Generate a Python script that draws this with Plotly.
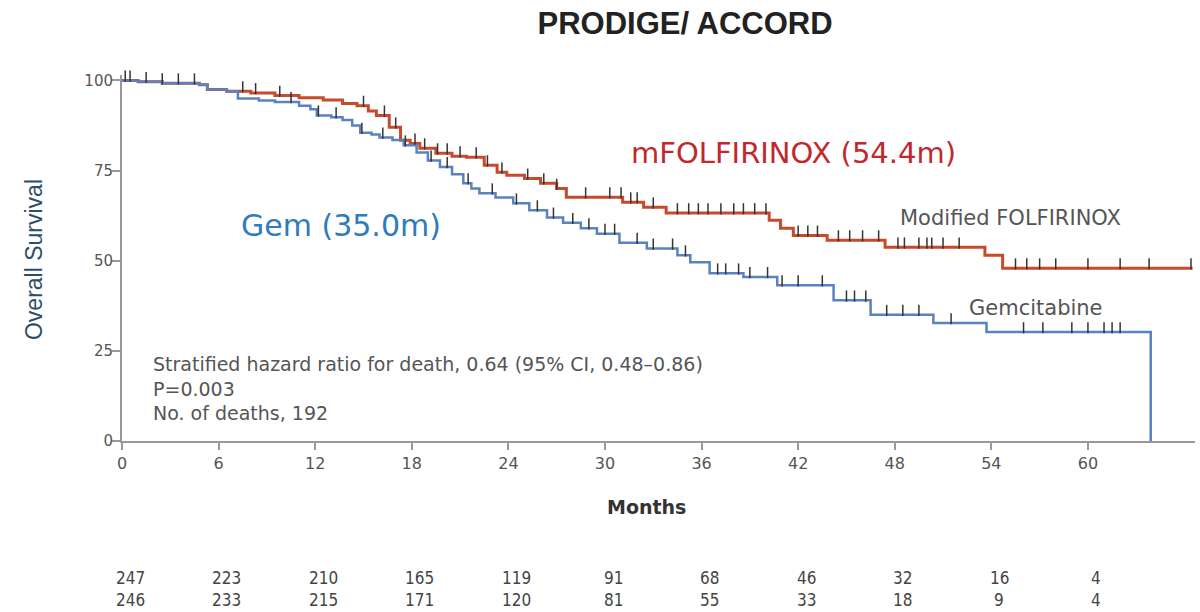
import numpy as np
import plotly.graph_objects as go

# ---------------- data ----------------
folf_t = [0, 1.0, 2.5, 4.8, 5.3, 6.5, 8.0, 9.5, 11.0, 12.5, 13.7, 14.6, 15.3, 15.8, 16.6, 17.3, 17.9,
          18.5, 19.5, 20.5, 21.4, 22.5, 23.3, 23.9, 25.0, 26.0, 27.0, 27.6, 31.1, 32.4, 33.8,
          40.2, 40.9, 41.7, 43.8, 47.4, 53.6, 54.7, 66.5]
folf_s = [100, 99.6, 99.2, 98.8, 97.5, 97.0, 96.5, 95.8, 95.2, 94.6, 93.6, 93.0, 91.5, 90.3, 87.0, 83.4, 82.5,
          81.2, 79.8, 79.0, 78.7, 76.5, 74.5, 73.7, 72.8, 71.5, 70.0, 67.6, 66.2, 64.8, 63.2,
          61.2, 59.0, 57.0, 55.7, 53.7, 51.5, 47.9, 47.9]

gem_t = [0, 1.0, 2.5, 4.8, 5.3, 6.5, 7.2, 8.5, 9.5, 11.0, 11.7, 12.1, 13.0, 13.7, 14.3, 14.8, 15.5,
         16.0, 16.8, 17.5, 18.3, 19.0, 19.75, 20.5, 21.2, 21.7, 22.2, 23.2, 24.3, 25.3, 26.4, 27.4,
         28.5, 29.5, 30.9, 32.6, 34.5, 35.3, 36.5, 38.6, 40.7, 44.2, 46.5, 50.4, 53.7, 63.9, 63.9]
gem_s = [100, 99.6, 99.2, 98.8, 97.5, 97.0, 95.0, 94.4, 94.0, 93.0, 92.0, 90.3, 89.8, 89.0, 87.5, 85.5, 85.0,
         84.2, 83.5, 82.0, 80.0, 77.8, 76.0, 74.0, 71.5, 70.0, 68.7, 67.5, 65.9, 64.0, 62.0, 60.5,
         59.0, 57.5, 55.0, 53.4, 51.5, 49.6, 46.5, 45.5, 43.2, 39.0, 35.0, 32.7, 30.2, 30.2, 0]

folf_censor = [0.2, 0.5, 1.5, 2.5, 3.5, 4.5, 7.5, 8.3, 9.8, 15.0, 16.3, 17.0, 18.2, 18.8, 19.6, 20.2, 21.0,
               22.0, 22.7, 23.6, 25.2, 26.2, 27.0, 28.8, 30.3, 31.0, 31.6, 32.0, 33.0, 34.5, 35.2,
               35.8, 36.4, 37.2, 38.0, 38.6, 39.3, 40.0, 42.0, 42.6, 43.2, 44.5, 45.2, 46.0, 47.0,
               48.2, 48.6, 49.5, 50.0, 50.3, 51.0, 52.0, 55.5, 56.2, 57.0, 58.0, 60.0, 62.0, 63.8, 66.4]
gem_censor = [10.5, 12.2, 13.3, 14.9, 16.2, 17.6, 19.2, 20.2, 21.5, 23.0, 24.5, 25.8, 26.8, 28.0, 29.0,
              30.0, 30.6, 32.0, 33.0, 34.2, 35.0, 37.0, 37.5, 38.3, 39.0, 40.1, 41.0, 42.0, 43.5,
              45.0, 45.5, 46.2, 47.5, 48.5, 49.5, 51.5, 56.0, 57.2, 59.0, 60.0, 61.0, 61.5, 62.0]

tick_months = [0, 6, 12, 18, 24, 30, 36, 42, 48, 54, 60]
risk_folf = [247, 223, 210, 165, 119, 91, 68, 46, 32, 16, 4]
risk_gem = [246, 233, 215, 171, 120, 81, 55, 33, 18, 9, 4]

RED = "#c64a2c"
BLUE = "#5a82c0"


def step_value(ts, ss, x):
    idx = np.searchsorted(np.array(ts), np.array(x), side="right") - 1
    return np.array(ss)[idx]


fig = go.Figure()
fig.add_trace(go.Scatter(x=folf_t, y=folf_s, mode="lines", line=dict(color=RED, width=3, shape="hv"),
                         showlegend=False, hoverinfo="skip"))
fig.add_trace(go.Scatter(x=gem_t, y=gem_s, mode="lines", line=dict(color=BLUE, width=2.5, shape="hv"),
                         showlegend=False, hoverinfo="skip"))
fig.add_trace(go.Scatter(x=folf_censor, y=step_value(folf_t, folf_s, folf_censor) + 1.2, mode="markers",
                         marker=dict(symbol="line-ns", size=8, line=dict(color="#333", width=1.5)),
                         showlegend=False, hoverinfo="skip", cliponaxis=False))
fig.add_trace(go.Scatter(x=gem_censor, y=step_value(gem_t, gem_s, gem_censor) + 1.2, mode="markers",
                         marker=dict(symbol="line-ns", size=8, line=dict(color="#333", width=1.5)),
                         showlegend=False, hoverinfo="skip", cliponaxis=False))

annotations = [
    dict(text="mFOLFIRINOX (54.4m)", x=41.7, y=80.0, xref="x", yref="y", showarrow=False,
         font=dict(family="DejaVu Sans", size=29, color="#c0282d")),
    dict(text="Gem (35.0m)", x=13.6, y=59.8, xref="x", yref="y", showarrow=False,
         font=dict(family="DejaVu Sans", size=30, color="#2f7bbd")),
    dict(text="Modified FOLFIRINOX", x=55.2, y=61.8, xref="x", yref="y", showarrow=False,
         font=dict(family="DejaVu Sans", size=21, color="#555")),
    dict(text="Gemcitabine", x=56.8, y=36.9, xref="x", yref="y", showarrow=False,
         font=dict(family="DejaVu Sans", size=21, color="#555")),
    dict(text="Stratified hazard ratio for death, 0.64 (95% CI, 0.48\u20130.86)<br>P=0.003<br>No. of deaths, 192",
         x=1.8, y=25.0, xref="x", yref="y", showarrow=False, xanchor="left", yanchor="top", align="left",
         font=dict(family="DejaVu Sans", size=19, color="#555")),
    dict(text="<b>Months</b>", x=32.6, y=-0.18, xref="x", yref="paper", showarrow=False, yanchor="middle",
         font=dict(family="DejaVu Sans", size=19, color="#333")),
    dict(text="Overall Survival", x=-0.082, y=0.4945, xref="paper", yref="paper", showarrow=False,
         xanchor="center", yanchor="middle",
         textangle=-90, font=dict(family="Liberation Sans, Arial", size=23, color="#2d4e6b")),
]
for m, a, b in zip(tick_months, risk_folf, risk_gem):
    annotations.append(dict(text=str(a), x=m + 0.5, y=-0.374, xref="x", yref="paper", showarrow=False,
                            yanchor="middle",
                            font=dict(family="DejaVu Sans Condensed, DejaVu Sans", size=17, color="#444")))
    annotations.append(dict(text=str(b), x=m + 0.5, y=-0.434, xref="x", yref="paper", showarrow=False,
                            yanchor="middle",
                            font=dict(family="DejaVu Sans Condensed, DejaVu Sans", size=17, color="#444")))

fig.update_layout(
    width=1200, height=612,
    margin=dict(l=122, r=5, t=75, b=171),
    paper_bgcolor="white", plot_bgcolor="white",
    title=dict(text="<b>PRODIGE/ ACCORD</b>", x=685 / 1200, y=1 - 23 / 612, xref="container", yref="container",
               xanchor="center", yanchor="middle",
               font=dict(family="Liberation Sans, Arial", size=31, color="#222")),
    annotations=annotations,
    xaxis=dict(range=[0, 66.65], tickvals=tick_months, showline=True, linecolor="#999", linewidth=2,
               ticks="outside", ticklen=7, tickcolor="#999", tickwidth=1.5, showgrid=False, zeroline=False,
               tickfont=dict(family="DejaVu Sans", size=16, color="#555")),
    yaxis=dict(range=[0, 101.5], tickvals=[0, 25, 50, 75, 100], showline=True, linecolor="#999", linewidth=2,
               ticks="outside", ticklen=8, tickcolor="#999", tickwidth=1.5, showgrid=False, zeroline=False,
               ticklabelstandoff=-4,
               tickfont=dict(family="DejaVu Sans", size=15, color="#555")),
)

fig.write_html("out.html")
